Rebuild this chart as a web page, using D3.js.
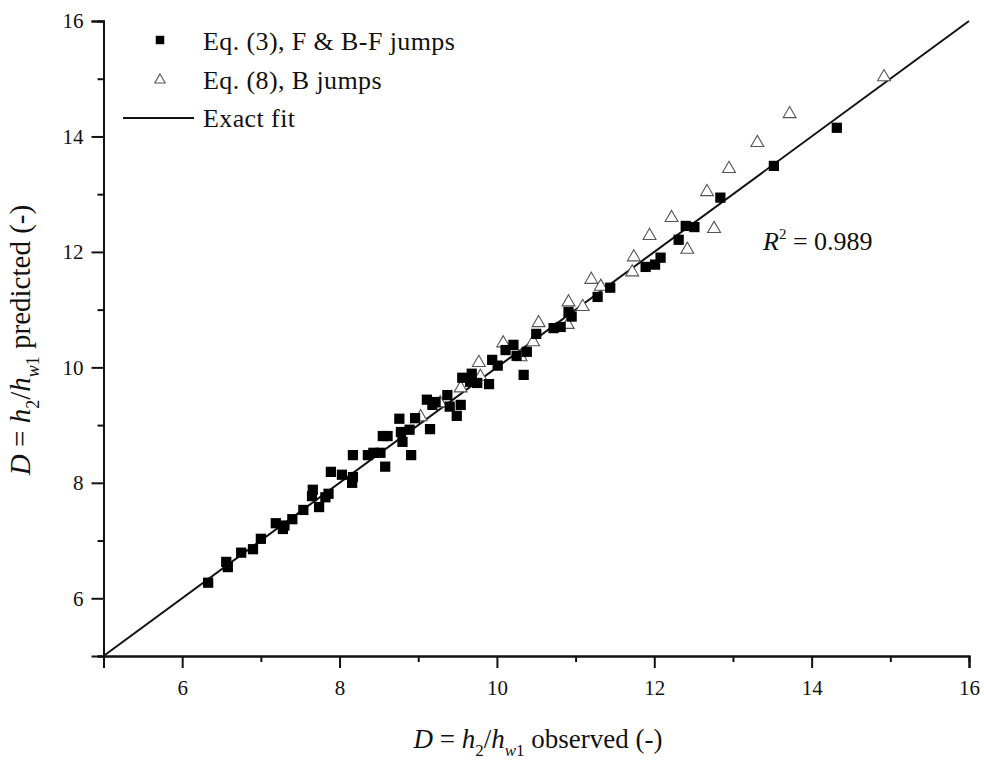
<!DOCTYPE html>
<html><head><meta charset="utf-8">
<script src="https://cdn.jsdelivr.net/npm/d3@7"></script>
</head><body style="margin:0;background:#fff">
<script>
// Eq. (3), F & B-F jumps (observed, predicted)
const sqX = [6.33,6.56,6.58,6.75,6.90,7.00,7.19,7.28,7.30,7.40,7.54,7.65,7.66,7.74,7.82,7.86,7.89,8.03,8.16,8.17,8.17,8.36,8.43,8.52,8.55,8.61,8.58,8.76,8.78,8.80,8.89,8.91,8.96,9.11,9.15,9.18,9.22,9.37,9.40,9.49,9.54,9.56,9.66,9.68,9.75,9.90,9.94,10.01,10.11,10.21,10.25,10.34,10.38,10.50,10.72,10.81,10.91,10.95,11.28,11.44,11.89,12.01,12.08,12.31,12.40,12.51,12.84,13.52,14.32];
const sqY = [6.27,6.63,6.54,6.79,6.85,7.03,7.30,7.20,7.26,7.37,7.53,7.77,7.88,7.58,7.75,7.81,8.19,8.14,8.00,8.10,8.48,8.48,8.52,8.52,8.81,8.81,8.28,9.11,8.88,8.71,8.92,8.48,9.12,9.44,8.93,9.35,9.40,9.52,9.32,9.16,9.35,9.82,9.75,9.89,9.73,9.71,10.13,10.03,10.30,10.39,10.20,9.87,10.27,10.58,10.68,10.70,10.96,10.88,11.22,11.38,11.74,11.78,11.90,12.21,12.45,12.43,12.94,13.49,14.15];
// Eq. (8), B jumps
const triX = [9.03,9.28,9.54,9.77,9.79,10.08,10.30,10.46,10.53,10.90,10.91,11.09,11.20,11.32,11.72,11.74,11.94,12.22,12.42,12.67,12.76,12.95,13.31,13.72,14.92];
const triY = [9.14,9.38,9.64,10.08,9.84,10.42,10.18,10.44,10.77,10.74,11.13,11.05,11.52,11.40,11.65,11.91,12.28,12.59,12.04,13.04,12.40,13.44,13.89,14.39,15.03];
const fitLine = [5,16];
const majorTicks = [6,8,10,12,14,16];
const minorTicks = [5,7,9,11,13,15];
const r2Label = "0.989";

const FONT='"Liberation Serif","Times New Roman",serif';
const W=984,H=765;
const svg=d3.select("body").append("svg").attr("width",W).attr("height",H).style("display","block");
const x=d3.scaleLinear().domain([5,16]).range([103.5,969]);
const y=d3.scaleLinear().domain([5,16]).range([656,21]);

// axes
const gx=svg.append("g").attr("transform","translate(0,656)");
gx.call(d3.axisBottom(x).tickValues(majorTicks).tickSize(12).tickPadding(12).tickFormat(d3.format("d")));
gx.append("g").call(d3.axisBottom(x).tickValues(minorTicks).tickSize(6).tickFormat(""));
const gy=svg.append("g").attr("transform","translate(103.5,0)");
gy.call(d3.axisLeft(y).tickValues(majorTicks).tickSize(12).tickPadding(8).tickFormat(d3.format("d")));
gy.append("g").call(d3.axisLeft(y).tickValues(minorTicks).tickSize(6).tickFormat(""));
gx.attr("font-family",null); gy.attr("font-family",null);
svg.selectAll(".domain").attr("stroke","#111").attr("stroke-width",2);
svg.selectAll(".tick line").attr("stroke","#111").attr("stroke-width",2);
svg.selectAll(".tick text").attr("font-size",21).style("font-family",FONT).attr("fill","#111");

// fit line
svg.append("line").attr("x1",x(fitLine[0])).attr("y1",y(fitLine[0])).attr("x2",x(fitLine[1])).attr("y2",y(fitLine[1]))
  .attr("stroke","#111").attr("stroke-width",2);

const sq=d3.symbol().type(d3.symbolSquare).size(105);
const tri=d3.symbol().type(d3.symbolTriangle).size(72);
svg.append("g").selectAll("path").data(triX.map((v,i)=>[v,triY[i]])).join("path")
  .attr("d",tri).attr("transform",d=>`translate(${x(d[0])},${y(d[1])})`)
  .attr("fill","#fff").attr("stroke","#555").attr("stroke-width",1.1);
svg.append("g").selectAll("path").data(sqX.map((v,i)=>[v,sqY[i]])).join("path")
  .attr("d",sq).attr("transform",d=>`translate(${x(d[0])},${y(d[1])})`)
  .attr("fill","#000");

// legend
const lg=svg.append("g");
lg.append("path").attr("d",d3.symbol().type(d3.symbolSquare).size(72)).attr("transform","translate(160,40)").attr("fill","#000");
lg.append("text").attr("x",203).attr("y",50).text("Eq. (3), F & B-F jumps");
lg.append("path").attr("d",d3.symbol().type(d3.symbolTriangle).size(48)).attr("transform","translate(160,80)").attr("fill","#fff").attr("stroke","#555").attr("stroke-width",1.1);
lg.append("text").attr("x",203).attr("y",89).text("Eq. (8), B jumps");
lg.append("line").attr("x1",123).attr("x2",194).attr("y1",118).attr("y2",118).attr("stroke","#111").attr("stroke-width",2);
lg.append("text").attr("x",203).attr("y",127).text("Exact fit");
lg.selectAll("text").attr("font-size",26).attr("letter-spacing",0.4).style("font-family",FONT).attr("fill","#111");

// R^2
const rt=svg.append("text").attr("x",763).attr("y",250).attr("font-size",26).style("font-family",FONT).attr("fill","#111");
rt.append("tspan").attr("font-style","italic").text("R");
rt.append("tspan").attr("font-size",15).attr("dy",-11).text("2");
rt.append("tspan").attr("dy",11).text(" = "+r2Label);

// axis titles
function title(sel, suffix, fs){
  const sub=Math.round(fs*0.63), dd=Math.round(fs*0.3);
  sel.append("tspan").attr("font-style","italic").text("D");
  sel.append("tspan").text(" = ");
  sel.append("tspan").attr("font-style","italic").text("h");
  sel.append("tspan").attr("font-size",sub).attr("dy",dd).text("2");
  sel.append("tspan").attr("dy",-dd).text("/");
  sel.append("tspan").attr("font-style","italic").text("h");
  sel.append("tspan").attr("font-size",sub).attr("font-style","italic").attr("dy",dd).text("w");
  sel.append("tspan").attr("font-size",sub).text("1");
  sel.append("tspan").attr("dy",-dd).text(suffix);
}
const xt=svg.append("text").attr("x",538).attr("y",748).attr("text-anchor","middle").attr("font-size",27).style("font-family",FONT).attr("fill","#111");
title(xt," observed (-)",27);
const yt=svg.append("text").attr("transform","translate(30,340) rotate(-90)").attr("text-anchor","middle").attr("font-size",29).style("font-family",FONT).attr("fill","#111");
title(yt," predicted (-)",29);
</script>
</body></html>
